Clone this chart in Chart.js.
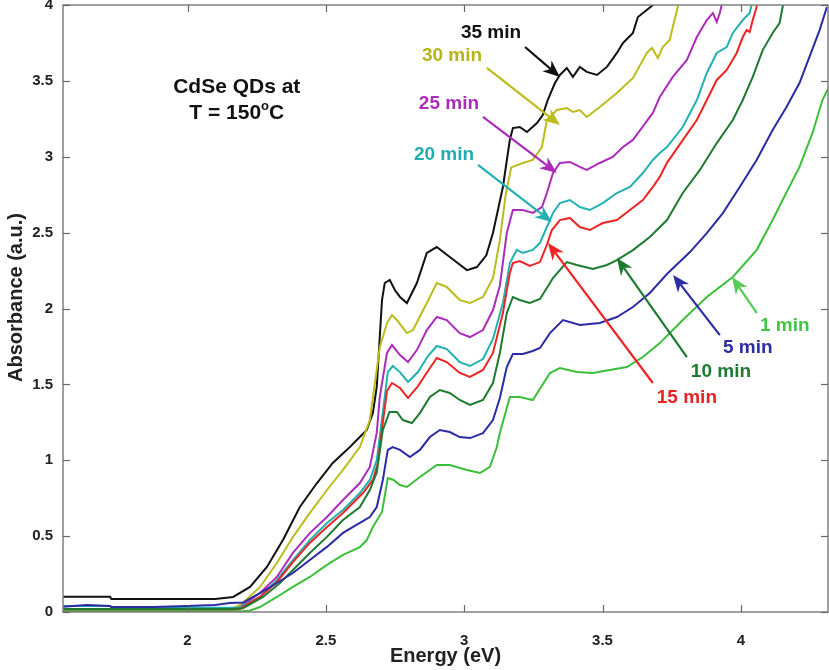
<!DOCTYPE html>
<html><head><meta charset="utf-8">
<script src="https://cdn.jsdelivr.net/npm/chart.js@4.4.0/dist/chart.umd.min.js"></script>
<style>html,body{margin:0;padding:0;background:#fff}#wrap{width:829px;height:670px;position:relative}</style>
</head><body><div id="wrap"><canvas id="c" width="829" height="670"></canvas></div>
<script>
// ---- axis ticks ----
const xTicks=[2,2.5,3,3.5,4];
const yTicks=[0,0.5,1,1.5,2,2.5,3,3.5,4];
const xTitle='Energy (eV)';
const yTitle='Absorbance (a.u.)';

// ---- series (energy eV, absorbance a.u.) ----
const e01=[1.55,2.20,2.226,2.262,2.323,2.381,2.442,2.504,2.562,2.623,2.648,2.670,2.703,2.724,2.745,2.768,2.793,2.840,2.901,2.948,3.010,3.057,3.093,3.118,3.129,3.165,3.201,3.248,3.310,3.346,3.407,3.465,3.526,3.588,3.646,3.707,3.790,3.877,3.971,4.057,4.115,4.151,4.212,4.259,4.295,4.318];
const a01=[0.005,0.005,0.01,0.033,0.099,0.165,0.231,0.310,0.376,0.428,0.474,0.560,0.659,0.883,0.87,0.837,0.824,0.890,0.969,0.969,0.936,0.916,0.956,1.087,1.179,1.417,1.417,1.397,1.575,1.608,1.582,1.575,1.595,1.614,1.680,1.772,1.924,2.076,2.208,2.385,2.583,2.715,2.933,3.157,3.374,3.460];

const e05=[1.55,1.636,1.72,1.725,1.875,1.998,2.099,2.153,2.200,2.262,2.323,2.381,2.442,2.504,2.562,2.623,2.659,2.684,2.706,2.724,2.742,2.768,2.804,2.840,2.876,2.912,2.948,2.984,3.021,3.068,3.104,3.129,3.154,3.176,3.212,3.248,3.274,3.310,3.357,3.418,3.490,3.552,3.610,3.671,3.733,3.816,3.877,3.935,3.996,4.057,4.115,4.165,4.212,4.248,4.285,4.311];
const a05=[0.035,0.046,0.040,0.033,0.033,0.040,0.046,0.059,0.062,0.125,0.191,0.257,0.343,0.429,0.521,0.587,0.626,0.692,0.870,1.068,1.087,1.068,1.021,1.068,1.153,1.199,1.186,1.153,1.146,1.179,1.265,1.410,1.614,1.700,1.700,1.720,1.740,1.838,1.924,1.892,1.905,1.944,2.010,2.102,2.227,2.372,2.497,2.629,2.801,2.979,3.176,3.328,3.486,3.658,3.836,3.987];

const e10=[1.55,2.15,2.201,2.273,2.334,2.381,2.442,2.504,2.562,2.623,2.659,2.684,2.706,2.730,2.757,2.778,2.811,2.840,2.876,2.912,2.948,2.984,3.021,3.068,3.104,3.129,3.154,3.176,3.201,3.237,3.274,3.321,3.371,3.407,3.465,3.516,3.552,3.610,3.671,3.733,3.790,3.852,3.913,3.971,4.007,4.043,4.079,4.115,4.140,4.151,4.155];
const a10=[0.02,0.02,0.025,0.099,0.191,0.277,0.389,0.495,0.606,0.692,0.804,0.92,1.200,1.318,1.318,1.265,1.245,1.311,1.417,1.463,1.443,1.397,1.364,1.397,1.509,1.707,1.970,2.076,2.056,2.036,2.063,2.201,2.306,2.287,2.260,2.287,2.319,2.385,2.471,2.583,2.761,2.913,3.090,3.242,3.374,3.526,3.703,3.816,3.881,3.987,4.02];

const e15=[1.55,2.15,2.189,2.262,2.323,2.381,2.442,2.504,2.562,2.598,2.634,2.670,2.688,2.706,2.721,2.739,2.768,2.797,2.833,2.869,2.901,2.937,2.984,3.021,3.068,3.104,3.140,3.165,3.176,3.201,3.237,3.274,3.299,3.317,3.346,3.382,3.418,3.454,3.501,3.552,3.599,3.646,3.682,3.707,3.733,3.790,3.841,3.877,3.913,3.949,3.985,4.007,4.021,4.032,4.043,4.057,4.060];
const a15=[0.012,0.012,0.02,0.099,0.198,0.329,0.455,0.560,0.652,0.718,0.784,0.870,0.98,1.25,1.456,1.509,1.476,1.410,1.489,1.588,1.674,1.647,1.575,1.549,1.595,1.707,1.970,2.234,2.300,2.313,2.280,2.306,2.42,2.517,2.583,2.597,2.537,2.517,2.563,2.583,2.649,2.715,2.801,2.867,2.96,3.110,3.242,3.374,3.506,3.572,3.684,3.789,3.835,3.822,3.901,3.987,4.02];

const e20=[1.55,1.72,1.725,2.12,2.189,2.262,2.323,2.381,2.442,2.504,2.562,2.623,2.659,2.684,2.713,2.724,2.742,2.768,2.797,2.833,2.869,2.901,2.937,2.984,3.021,3.068,3.104,3.140,3.165,3.190,3.212,3.248,3.274,3.299,3.321,3.346,3.382,3.418,3.454,3.501,3.552,3.599,3.646,3.682,3.707,3.733,3.790,3.841,3.877,3.913,3.949,3.971,4.007,4.032,4.043];
const a20=[0.04,0.04,0.028,0.028,0.03,0.099,0.211,0.342,0.474,0.587,0.672,0.784,0.870,1.0,1.42,1.58,1.621,1.581,1.516,1.581,1.687,1.753,1.733,1.647,1.621,1.667,1.799,2.036,2.300,2.386,2.366,2.386,2.432,2.537,2.630,2.695,2.715,2.669,2.649,2.695,2.761,2.801,2.893,2.979,3.025,3.064,3.196,3.374,3.552,3.684,3.723,3.816,3.901,3.947,4.033];

const e25=[1.55,2.15,2.179,2.262,2.323,2.381,2.442,2.504,2.562,2.623,2.659,2.684,2.695,2.721,2.739,2.768,2.797,2.829,2.865,2.901,2.937,2.984,3.021,3.068,3.104,3.129,3.154,3.176,3.212,3.248,3.281,3.299,3.321,3.346,3.382,3.418,3.443,3.490,3.537,3.574,3.610,3.646,3.682,3.707,3.754,3.805,3.841,3.877,3.899,3.913,3.924,3.935];
const a25=[0.015,0.015,0.02,0.125,0.231,0.389,0.520,0.626,0.738,0.850,0.956,1.180,1.417,1.707,1.759,1.693,1.647,1.726,1.858,1.944,1.924,1.838,1.812,1.858,1.990,2.15,2.498,2.649,2.649,2.630,2.669,2.761,2.893,2.959,2.966,2.933,2.913,2.959,2.999,3.064,3.111,3.200,3.289,3.394,3.526,3.638,3.789,3.901,3.947,3.888,3.947,4.033];

const e30=[1.55,2.12,2.153,2.200,2.262,2.323,2.381,2.442,2.504,2.562,2.623,2.659,2.695,2.721,2.739,2.757,2.793,2.815,2.865,2.901,2.937,2.984,3.021,3.068,3.104,3.129,3.150,3.170,3.212,3.248,3.281,3.299,3.335,3.371,3.393,3.418,3.443,3.490,3.552,3.610,3.660,3.679,3.700,3.718,3.743,3.754,3.772,3.780];
const a30=[0.005,0.005,0.013,0.059,0.165,0.323,0.494,0.652,0.804,0.936,1.087,1.265,1.746,1.904,1.957,1.924,1.838,1.858,2.036,2.168,2.142,2.056,2.036,2.076,2.2,2.45,2.75,2.93,2.959,2.979,3.064,3.242,3.308,3.321,3.295,3.308,3.262,3.328,3.420,3.519,3.684,3.717,3.651,3.723,3.769,3.855,3.987,4.03];

const e35=[1.55,1.72,1.725,2.10,2.165,2.226,2.287,2.345,2.406,2.468,2.525,2.587,2.648,2.670,2.684,2.703,2.713,2.731,2.750,2.768,2.793,2.829,2.865,2.901,2.948,3.010,3.046,3.080,3.104,3.140,3.165,3.176,3.201,3.227,3.263,3.284,3.302,3.328,3.346,3.371,3.393,3.418,3.443,3.480,3.516,3.552,3.574,3.610,3.628,3.660,3.689];
const a35=[0.100,0.100,0.086,0.086,0.099,0.165,0.297,0.475,0.692,0.850,0.982,1.087,1.199,1.311,1.483,2.056,2.168,2.188,2.12,2.076,2.036,2.168,2.366,2.405,2.339,2.253,2.273,2.35,2.498,2.801,3.110,3.189,3.196,3.163,3.222,3.275,3.374,3.486,3.539,3.585,3.526,3.592,3.559,3.539,3.592,3.684,3.750,3.816,3.921,3.967,4.01];

const seriesLabels=['1 min','5 min','10 min','15 min','20 min','25 min','30 min','35 min'];
const seriesColors=['#3bbf3b','#2b2ba3','#1d7a30','#ec2424','#22b0b2','#ab2cb8','#bcbc1c','#111111'];
const seriesE=[e01,e05,e10,e15,e20,e25,e30,e35];
const seriesA=[a01,a05,a10,a15,a20,a25,a30,a35];

// ---- annotations (data coordinates) ----
const labelText=['35 min','30 min','25 min','20 min','15 min','10 min','5 min','1 min'];
const labelColor=['#111111','#b5b51a','#ab2cb8','#22aeb0','#e52424','#1d7a30','#2d2da3','#44c444'];
const labelX=[3.097,2.956,2.945,2.927,3.805,3.928,4.025,4.159];
const labelY=[3.815,3.664,3.348,3.012,1.410,1.582,1.740,1.885];
const arrowFromX=[3.220,3.082,3.068,3.050,3.682,3.805,3.924,4.058];
const arrowFromY=[3.723,3.585,3.262,2.946,1.509,1.680,1.825,1.970];
const arrowToX=[3.346,3.346,3.335,3.317,3.303,3.552,3.755,3.968];
const arrowToY=[3.526,3.209,2.893,2.570,2.432,2.333,2.221,2.208];
const arrowColor=['#111111','#bcbc1c','#ab2cb8','#22b0b2','#ec2424','#1d7a30','#2d2da3','#55cc55'];
const noteLines=['CdSe QDs at','T = 150','o','C'];
const noteX=2.178, noteY1=3.460, noteY2=3.288;

const FONT='"Liberation Sans", Arial, Helvetica, sans-serif';

const datasets=seriesLabels.map((lab,i)=>({
  label:lab,
  data:seriesE[i].map((e,j)=>({x:e,y:seriesA[i][j]})),
  borderColor:seriesColors[i],
  backgroundColor:seriesColors[i],
  borderWidth:2,pointRadius:0,showLine:true,fill:false,tension:0
}));

const framePlugin={
  id:'frame',
  afterDatasetsDraw(chart){
    const {ctx,chartArea:ca,scales:{x,y}}=chart;
    ctx.save();
    ctx.strokeStyle='#808080';ctx.lineWidth=1.5;
    ctx.strokeRect(ca.left,ca.top,ca.right-ca.left,ca.bottom-ca.top);
    ctx.lineWidth=1.2;ctx.strokeStyle='#666';
    const tl=7;
    xTicks.forEach(v=>{const px=Math.round(x.getPixelForValue(v))+0.5;
      ctx.beginPath();ctx.moveTo(px,ca.bottom);ctx.lineTo(px,ca.bottom-tl);ctx.stroke();
      ctx.beginPath();ctx.moveTo(px,ca.top);ctx.lineTo(px,ca.top+tl);ctx.stroke();});
    yTicks.forEach(v=>{const py=Math.round(y.getPixelForValue(v))+0.5;
      ctx.beginPath();ctx.moveTo(ca.left,py);ctx.lineTo(ca.left+tl,py);ctx.stroke();
      ctx.beginPath();ctx.moveTo(ca.right,py);ctx.lineTo(ca.right-tl,py);ctx.stroke();});
    // y axis title
    ctx.save();ctx.translate(16,(ca.top+ca.bottom)/2-11);ctx.rotate(-Math.PI/2);
    ctx.fillStyle='#222';ctx.font='bold 20px '+FONT;ctx.textAlign='center';ctx.textBaseline='middle';
    ctx.fillText(yTitle,0,0);ctx.restore();
    // arrows
    for(let i=0;i<labelText.length;i++){
      const x0=x.getPixelForValue(arrowFromX[i]),y0=y.getPixelForValue(arrowFromY[i]);
      const x1=x.getPixelForValue(arrowToX[i]),y1=y.getPixelForValue(arrowToY[i]);
      const ang=Math.atan2(y1-y0,x1-x0);
      const L=17,W=7,N=12;
      ctx.strokeStyle=arrowColor[i];ctx.fillStyle=arrowColor[i];ctx.lineWidth=2.2;
      ctx.beginPath();ctx.moveTo(x0,y0);
      ctx.lineTo(x1-Math.cos(ang)*N,y1-Math.sin(ang)*N);ctx.stroke();
      const bx=x1-Math.cos(ang)*L,by=y1-Math.sin(ang)*L;
      const nx=-Math.sin(ang),ny=Math.cos(ang);
      ctx.beginPath();ctx.moveTo(x1,y1);
      ctx.lineTo(bx+nx*W,by+ny*W);
      ctx.lineTo(x1-Math.cos(ang)*N,y1-Math.sin(ang)*N);
      ctx.lineTo(bx-nx*W,by-ny*W);ctx.closePath();ctx.fill();
      ctx.fillStyle=labelColor[i];
      ctx.font='bold 19px '+FONT;ctx.textAlign='center';ctx.textBaseline='middle';
      ctx.fillText(labelText[i],x.getPixelForValue(labelX[i]),y.getPixelForValue(labelY[i]));
    }
    // note
    ctx.fillStyle='#111';ctx.textBaseline='middle';ctx.textAlign='center';
    ctx.font='bold 21px '+FONT;
    const cx=x.getPixelForValue(noteX);
    ctx.fillText(noteLines[0],cx,y.getPixelForValue(noteY1));
    const w1=ctx.measureText(noteLines[1]).width, w3=ctx.measureText(noteLines[3]).width;
    ctx.font='bold 13px '+FONT;const w2=ctx.measureText(noteLines[2]).width;
    const tot=w1+w2+w3;let sx=cx-tot/2;const yy=y.getPixelForValue(noteY2);
    ctx.textAlign='left';ctx.font='bold 21px '+FONT;ctx.fillText(noteLines[1],sx,yy);
    ctx.font='bold 13px '+FONT;ctx.fillText(noteLines[2],sx+w1,yy-7);
    ctx.font='bold 21px '+FONT;ctx.fillText(noteLines[3],sx+w1+w2,yy);
    ctx.restore();
  }
};

new Chart(document.getElementById('c'),{
  type:'scatter',
  data:{datasets},
  plugins:[framePlugin],
  options:{
    responsive:false,animation:false,
    layout:{padding:{top:5,right:1,left:0,bottom:0}},
    plugins:{legend:{display:false},tooltip:{enabled:false}},
    scales:{
      x:{type:'linear',min:1.55,max:4.315,
        afterBuildTicks:s=>{s.ticks=xTicks.map(v=>({value:v}));},
        afterFit:s=>{s.height=58;s.paddingLeft=0;s.paddingRight=0;},
        grid:{display:false,drawTicks:false},border:{display:false},
        ticks:{padding:20,autoSkip:false,maxRotation:0,color:'#222',font:{family:FONT,weight:'bold',size:15},callback:v=>String(v)},
        title:{display:true,text:xTitle,color:'#222',font:{family:FONT,weight:'bold',size:20},padding:{top:0,bottom:2}}
      },
      y:{type:'linear',min:0,max:4,
        afterBuildTicks:s=>{s.ticks=yTicks.map(v=>({value:v}));},
        afterFit:s=>{s.width=63;s.paddingTop=0;s.paddingBottom=0;},
        grid:{display:false,drawTicks:false},border:{display:false},
        ticks:{padding:10,autoSkip:false,color:'#222',font:{family:FONT,weight:'bold',size:15},callback:v=>String(v)},
        title:{display:false}
      }
    }
  }
});
</script></body></html>
